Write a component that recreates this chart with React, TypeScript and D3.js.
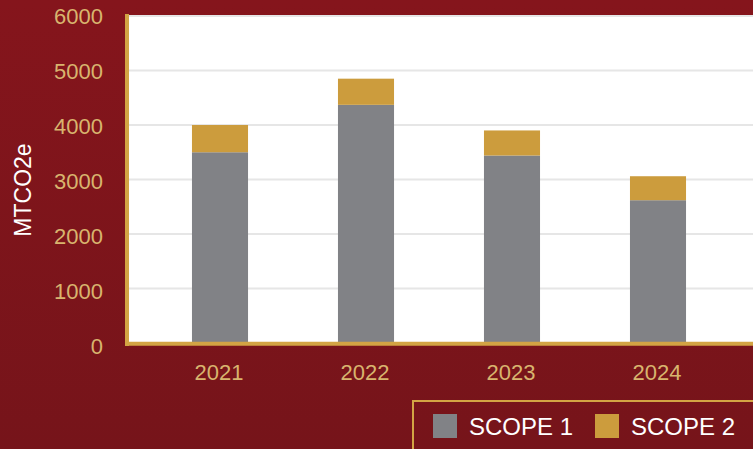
import React from "react";
import * as d3 from "d3";

const years = ["2021", "2022", "2023", "2024"];
const scope1 = [3500, 4370, 3440, 2620];
const scope2 = [500, 480, 460, 440];
const yTicks = [0, 1000, 2000, 3000, 4000, 5000, 6000];
const seriesNames = ["SCOPE 1", "SCOPE 2"];
const seriesColors = ["#818286", "#CC9C3D"];

const W = 753;
const H = 449;

export default function App() {
  const x = d3.scaleBand<string>().domain(years).range([147, 731]).paddingInner(0.616).paddingOuter(0.308);
  const y = d3.scaleLinear().domain([0, 6000]).range([343, 16]);
  const rows = years.map((yr, i) => ({ year: yr, s1: scope1[i], s2: scope2[i] }));
  const stack = d3.stack<any>().keys(["s1", "s2"])(rows);
  const font = "Liberation Sans, Arial, sans-serif";
  const tickColor = "#D8B46E";
  const gold = "#D3A444";

  return (
    <svg width={W} height={H} style={{ position: "absolute", left: 0, top: 0 }}>
      <defs>
        <linearGradient id="bg" x1="0" y1="0" x2="0" y2="1">
          <stop offset="0" stopColor="#85151C" />
          <stop offset="1" stopColor="#76141A" />
        </linearGradient>
      </defs>
      <rect x={0} y={0} width={W} height={H} fill="url(#bg)" />
      <rect x={129} y={15} width={W - 129} height={y(0) - 15} fill="#FFFFFF" />
      {yTicks.map((t) => (
        <line key={t} x1={129} x2={W} y1={y(t)} y2={y(t)} stroke="#E6E6E6" strokeWidth={2} />
      ))}
      {stack.map((layer, li) =>
        layer.map((d, i) => (
          <rect
            key={li + "-" + i}
            x={x(years[i])}
            width={x.bandwidth()}
            y={y(d[1])}
            height={y(d[0]) - y(d[1])}
            fill={seriesColors[li]}
          />
        ))
      )}
      <line x1={127} x2={127} y1={14} y2={346} stroke={gold} strokeWidth={4} />
      <line x1={125} x2={W} y1={343.8} y2={343.8} stroke={gold} strokeWidth={4} />
      {yTicks.map((t) => (
        <text
          key={t}
          x={103}
          y={y(t) + t / 6000 * -3 + 3}
          dy="0.35em"
          textAnchor="end"
          fontFamily={font}
          fontSize={22}
          fill={tickColor}
        >
          {t}
        </text>
      ))}
      {years.map((yr) => (
        <text
          key={yr}
          x={(x(yr) as number) + x.bandwidth() / 2 - 1}
          y={380}
          textAnchor="middle"
          fontFamily={font}
          fontSize={22}
          fill={tickColor}
        >
          {yr}
        </text>
      ))}
      <text
        transform="translate(31,190) rotate(-90)"
        textAnchor="middle"
        fontFamily={font}
        fontSize={23}
        fill="#FFFFFF"
      >
        MTCO2e
      </text>
      <rect x={413} y={401} width={W} height={H} fill="none" stroke={gold} strokeWidth={2} />
      {seriesNames.map((n, i) => (
        <g key={n} transform={`translate(${433 + i * 162},414)`}>
          <rect x={0} y={0} width={24} height={24} fill={seriesColors[i]} />
          <text x={36} y={21} fontFamily={font} fontSize={24} fill="#FFFFFF">
            {n}
          </text>
        </g>
      ))}
    </svg>
  );
}
